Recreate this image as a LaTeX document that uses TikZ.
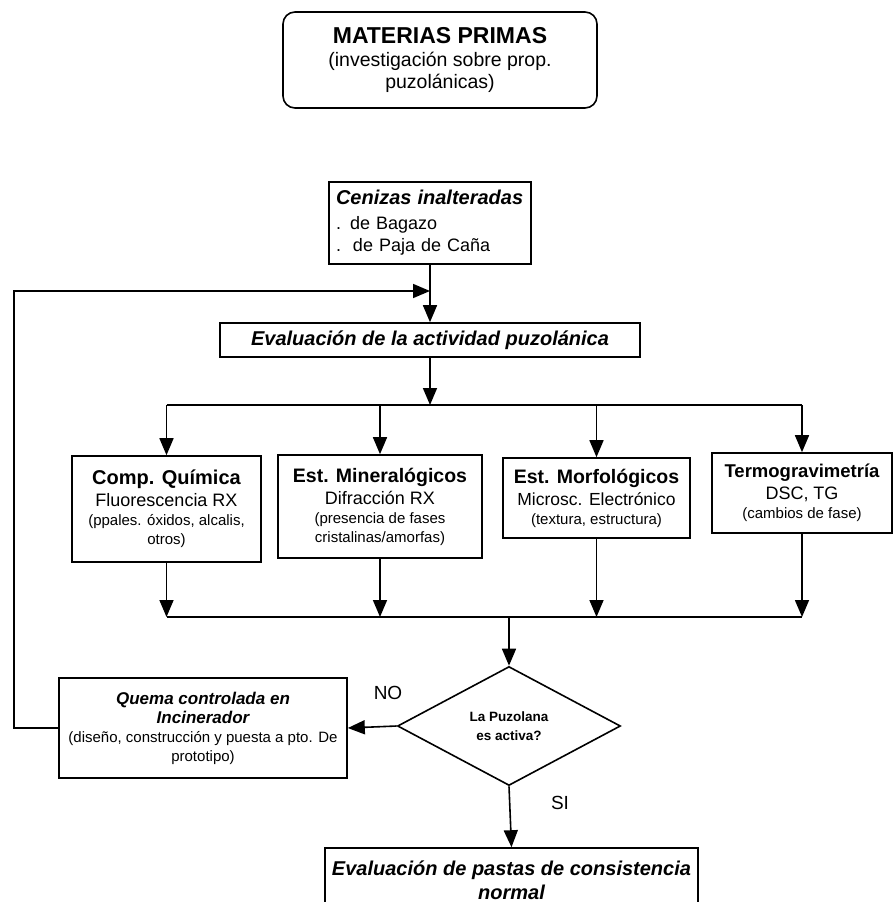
\documentclass[tikz,border=0pt]{standalone}
\usepackage{fontspec}
\setmainfont{Liberation Sans}
\usetikzlibrary{shapes, positioning, arrows.meta, calc}
\tikzstyle{box}=[rectangle, draw, line width=1.6pt, inner sep=3pt, align=center, fill=white, font=\fontsize{15}{19}\selectfont]
\tikzstyle{arr}=[-{Triangle[length=17pt,width=14pt]}]
\tikzstyle{lab}=[font=\fontsize{19}{23}\selectfont]

\begin{document}
\begin{tikzpicture}[x=1pt, y=-1pt, line width=1.6pt]
\clip (0,0) rectangle (894,902);
\node [box, rounded corners=12pt, minimum width=314, minimum height=96] (mp) at (440,60)
 {{\bfseries\fontsize{23}{27}\selectfont MATERIAS PRIMAS}\\[4pt] {\fontsize{19.5}{23}\selectfont (investigación sobre prop.}\\[3pt] {\fontsize{19.5}{23}\selectfont puzolánicas)}};
\node [box, align=left, text width=188, inner xsep=7pt, minimum height=82, font=\fontsize{18}{22}\selectfont] (cen) at (430,223)
 {{\bfseries\itshape\fontsize{20}{24}\selectfont Cenizas inalteradas}\\[3pt] . de Bagazo\\ .\ \ de Paja de Caña};
\node [box, minimum width=420, minimum height=34, font=\bfseries\itshape\fontsize{20}{24}\selectfont] (eval) at (430,340) {Evaluación de la actividad puzolánica};

% ensayos
\node [box, minimum width=189, minimum height=106] (comp) at (166.5,509)
 {{\bfseries\fontsize{20}{24}\selectfont Comp. Química}\\[3pt] {\fontsize{18}{22}\selectfont Fluorescencia RX}\\ (ppales. óxidos, alcalis,\\ otros)};
\node [box, minimum width=204, minimum height=103] (mine) at (380,506.5)
 {{\bfseries\fontsize{19.5}{24}\selectfont Est. Mineralógicos}\\[3pt] {\fontsize{18}{22}\selectfont Difracción RX}\\ (presencia de fases\\ cristalinas/amorfas)};
\node [box, minimum width=187, minimum height=80] (morf) at (596.5,498)
 {{\bfseries\fontsize{19.5}{24}\selectfont Est. Morfológicos}\\[3pt] {\fontsize{17.5}{22}\selectfont Microsc. Electrónico}\\ (textura, estructura)};
\node [box, minimum width=180, minimum height=80] (termo) at (802,493)
 {{\bfseries\fontsize{18.5}{23}\selectfont Termogravimetría}\\[3pt] {\fontsize{18}{22}\selectfont DSC, TG}\\ (cambios de fase)};

\node [box, shape=diamond, aspect=1.87, inner sep=0pt, minimum width=223, minimum height=119, font=\bfseries\fontsize{13.5}{19}\selectfont] (puz) at (509,726) {La Puzolana\\ es activa?};
\node [box, minimum width=288, minimum height=100] (quema) at (203,728)
 {{\bfseries\itshape\fontsize{17}{22}\selectfont Quema controlada en}\\ {\bfseries\itshape\fontsize{17}{22}\selectfont Incinerador}\\ (diseño, construcción y puesta a pto. De\\ prototipo)};
\node [box, minimum width=373, minimum height=64, font=\bfseries\itshape\fontsize{20}{24}\selectfont] (pastas) at (511.5,880) {Evaluación de pastas de consistencia\\ normal};

\node [lab] (no) at (388,693) {NO};
\node [lab] (si) at (560,803) {SI};

\coordinate (join) at (430,291); \coordinate (back) at (14,291);
\coordinate (split) at (430,405); \coordinate (merge) at (509,617);

\draw [arr] (cen) -- (eval);
\draw [arr] (quema.west) -| (back) -- (join);
\draw [arr] (eval) -- (split);
\draw (comp.north |- split) -- (termo.north |- split);
\draw (comp.south |- merge) -- (termo.south |- merge);
\foreach \b in {comp, mine, morf, termo} {
  \draw [arr] (\b.north |- split) -- (\b.north);
  \draw [arr] (\b.south) -- (\b.south |- merge);
}
\draw [arr] (merge) -- (puz.north);
\draw [arr] (puz.west) -- (quema.east);
\draw [arr] (puz.south) -- (pastas.north);
\end{tikzpicture}
\end{document}
